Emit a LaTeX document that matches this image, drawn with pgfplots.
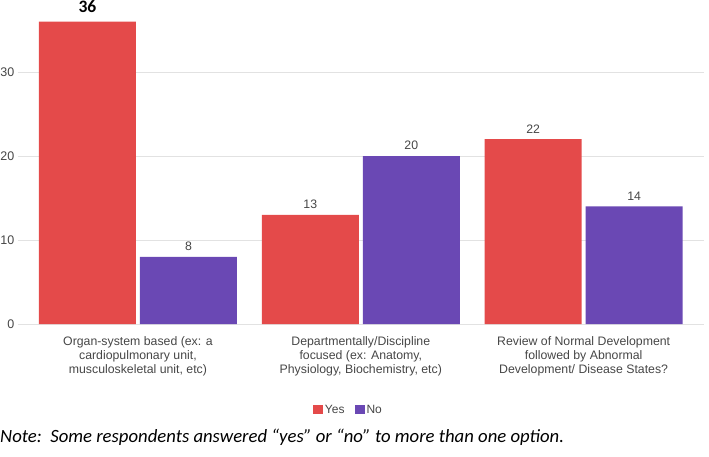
\documentclass[border=0pt]{standalone}
\usepackage{fontspec}
\setmainfont{Liberation Sans}
\newfontfamily\calibri{Carlito}
\usepackage{pgfplots}
\pgfplotsset{compat=1.18}
\pgfplotsset{ybar legend/.style={legend image code/.code={\fill[#1] (0pt,-4pt) rectangle (10pt,4.5pt);}}}

\definecolor{yesred}{RGB}{228,74,74}
\definecolor{nopurple}{RGB}{106,72,180}
\definecolor{gridgray}{RGB}{226,226,226}
\definecolor{labelgray}{RGB}{70,70,70}
\newcommand{\bignum}[1]{\raisebox{2.5pt}{\color{black}\calibri\bfseries\fontsize{17.5}{18}\selectfont #1}}

\begin{document}
\begin{tikzpicture}
\begin{axis}[
    at={(17.6pt,132pt)}, anchor=south west,
    scale only axis, width=686.4pt, height=302.4pt,
    ybar=4pt, bar width=97pt,
    xmin=-0.54, xmax=2.54, ymin=0, ymax=36,
    xtick={0,1,2},
    xticklabels={{Organ-system based (ex: a\\cardiopulmonary unit,\\musculoskeletal unit, etc)},
                 {Departmentally/Discipline\\focused (ex: Anatomy,\\Physiology, Biochemistry, etc)},
                 {Review of Normal Development\\followed by Abnormal\\Development/ Disease States?}},
    ytick={0,10,20,30},
    axis line style={draw=none}, major tick length=0pt,
    ymajorgrids, grid style={gridgray, line width=0.9pt},
    /pgf/number format/assume math mode=true,
    xticklabel style={font=\fontsize{12.3}{14}\selectfont, text=labelgray, align=center,
        anchor=north, inner sep=0pt, yshift=-12pt},
    yticklabel style={font=\fontsize{12.5}{14}\selectfont, text=labelgray, anchor=east,
        inner sep=0pt, xshift=-3pt},
    nodes near coords,
    every node near coord/.append style={font=\fontsize{12.3}{14}\selectfont, text=labelgray,
        anchor=south, inner sep=0pt, yshift=6pt},
    legend style={at={(0.482,-0.284)}, anchor=center, draw=none, fill=none,
        legend columns=2, font=\fontsize{12}{14}\selectfont, text=labelgray,
        nodes={inner sep=1.5pt},
        /tikz/every even column/.append style={column sep=9pt}, inner sep=0pt},
    clip=false,
]
\addplot[fill=yesred, draw=none, point meta=explicit symbolic]
    coordinates {(0,36) [\bignum{36}] (1,13) [13] (2,22) [22]};
\addplot[fill=nopurple, draw=none, point meta=y]
    coordinates {(0,8) (1,20) (2,14)};
\legend{Yes,No}
\end{axis}
\node[anchor=base west, inner sep=0pt, font=\calibri\itshape\fontsize{18.7}{20}\selectfont]
    at (0pt,14pt) {Note:\ \ Some respondents answered “yes” or “no” to more than one option.};
\pgfresetboundingbox
\path[use as bounding box] (0pt,0pt) rectangle (709pt,456pt);
\end{tikzpicture}
\end{document}
